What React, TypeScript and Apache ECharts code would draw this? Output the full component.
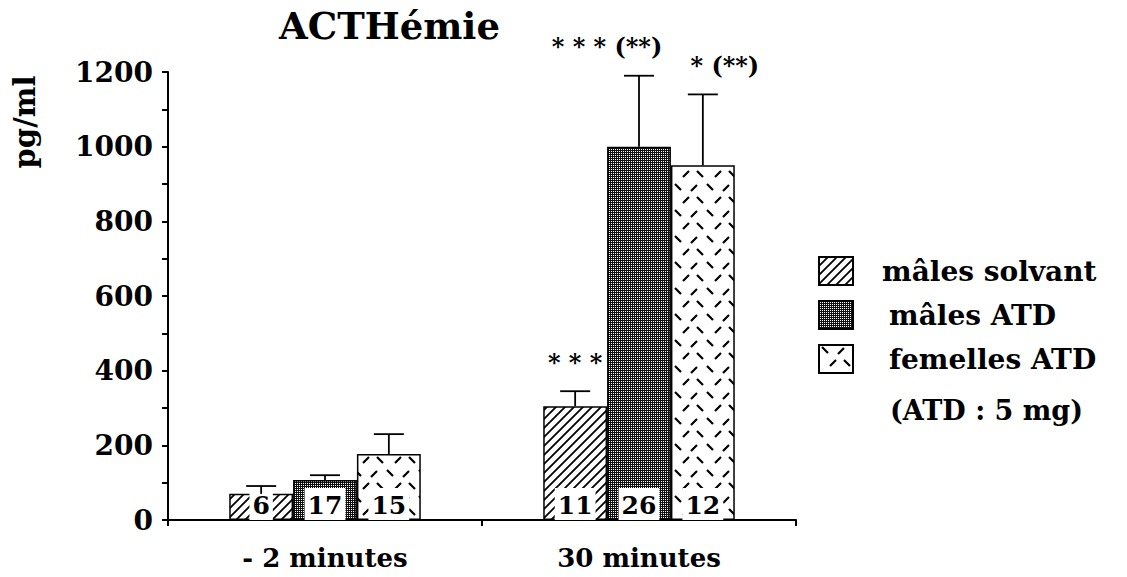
import React, { useEffect, useRef } from "react";
import * as echarts from "echarts";

const categories = ["- 2 minutes", "30 minutes"];
const seriesNames = ["mâles solvant", "mâles ATD", "femelles ATD"];
const means = [
  [70, 305],
  [107, 1000],
  [177, 950],
];
const upper = [
  [91, 345],
  [120, 1190],
  [230, 1140],
];
const counts = [
  ["6", "11"],
  ["17", "26"],
  ["15", "12"],
];
// annotations: [categoryIndex, seriesIndex, text]
const annotations: [number, number, string][] = [
  [1, 0, "* * *"],
  [1, 1, "* * * (**)"],
  [1, 2, "* (**)"],
];
const annotationShift = [0, -32, 22];
const yTicks = { min: 0, max: 1200, interval: 200 };

const FONT = "'DejaVu Serif', 'Liberation Serif', serif";

function makeHatch(): HTMLCanvasElement {
  const c = document.createElement("canvas");
  c.width = 9;
  c.height = 9;
  const g = c.getContext("2d")!;
  g.fillStyle = "#fff";
  g.fillRect(0, 0, 9, 9);
  g.strokeStyle = "#000";
  g.lineWidth = 1.8;
  g.beginPath();
  g.moveTo(-1, 10);
  g.lineTo(10, -1);
  g.moveTo(-5, 5);
  g.lineTo(5, -5);
  g.moveTo(4, 14);
  g.lineTo(14, 4);
  g.stroke();
  return c;
}

function makeDots(): HTMLCanvasElement {
  const c = document.createElement("canvas");
  c.width = 4;
  c.height = 4;
  const g = c.getContext("2d")!;
  g.fillStyle = "#111";
  g.fillRect(0, 0, 4, 4);
  g.fillStyle = "#fff";
  g.fillRect(1, 1, 1, 1);
  g.fillRect(3, 3, 1, 1);
  g.fillRect(3, 1, 1, 1);
  g.fillRect(1, 3, 1, 1);
  return c;
}

function makeDashes(): HTMLCanvasElement {
  const c = document.createElement("canvas");
  const w = 32;
  const h = 26;
  c.width = w;
  c.height = h;
  const g = c.getContext("2d")!;
  g.fillStyle = "#fff";
  g.fillRect(0, 0, w, h);
  g.strokeStyle = "#000";
  g.lineWidth = 2.2;
  g.beginPath();
  // row A
  g.moveTo(3, 2);
  g.lineTo(9, 8);
  g.moveTo(19, 9);
  g.lineTo(25, 3);
  // row B
  g.moveTo(11, 21);
  g.lineTo(17, 15);
  g.moveTo(25, 15);
  g.lineTo(31, 21);
  g.stroke();
  return c;
}

export default function App() {
  const ref = useRef<HTMLDivElement>(null);
  useEffect(() => {
    if (!ref.current) return;
    const chart = echarts.init(ref.current, undefined, { renderer: "svg" });
    const patterns = [makeHatch(), makeDots(), makeDashes()];
    const barFrac = 0.61 / 3;

    const barSeries = seriesNames.map((name, s) => ({
      name,
      type: "bar",
      data: means[s],
      barGap: "0%",
      barCategoryGap: "39%",
      itemStyle: {
        color: { image: patterns[s], repeat: "repeat" },
        borderColor: "#000",
        borderWidth: 1.5,
      },
      label: {
        show: true,
        position: "insideBottom",
        distance: 0,
        formatter: (p: any) => counts[s][p.dataIndex],
        backgroundColor: "#fff",
        padding: [3, 3, 0, 3],
        color: "#000",
        fontFamily: FONT,
        fontWeight: "bold",
        fontSize: 25,
        lineHeight: 29,
      },
    }));

    const errData: number[][] = [];
    seriesNames.forEach((_, s) =>
      categories.forEach((_, c) => errData.push([c, s, means[s][c], upper[s][c]]))
    );

    const errSeries = {
      type: "custom",
      name: "err",
      data: errData,
      z: 5,
      renderItem: (params: any, api: any) => {
        const c = api.value(0);
        const s = api.value(1);
        const base = api.coord([c, api.value(2)]);
        const top = api.coord([c, api.value(3)]);
        const bw = api.size([1, 0])[0] * barFrac;
        const x = base[0] + (s - 1) * bw;
        const st = { stroke: "#000", lineWidth: 1.8 };
        return {
          type: "group",
          children: [
            { type: "line", shape: { x1: x, y1: base[1], x2: x, y2: top[1] }, style: st },
            { type: "line", shape: { x1: x - 15, y1: top[1], x2: x + 15, y2: top[1] }, style: st },
          ],
        };
      },
    };

    const annSeries = {
      type: "custom",
      name: "ann",
      data: annotations.map((a) => [a[0], a[1], upper[a[1]][a[0]]]),
      z: 6,
      renderItem: (params: any, api: any) => {
        const c = api.value(0);
        const s = api.value(1);
        const top = api.coord([c, api.value(2)]);
        const bw = api.size([1, 0])[0] * barFrac;
        const x = top[0] + (s - 1) * bw + annotationShift[params.dataIndex];
        return {
          type: "text",
          x,
          y: top[1] - 29,
          style: {
            text: annotations[params.dataIndex][2],
            fill: "#000",
            font: `bold 24px ${FONT}`,
            align: "center",
            verticalAlign: "middle",
          },
        };
      },
    };

    chart.setOption({
      animation: false,
      backgroundColor: "#fff",
      title: {
        text: "ACTHémie",
        left: 274,
        top: 2,
        textStyle: { fontFamily: FONT, fontWeight: "bold", fontSize: 37, color: "#000" },
      },
      grid: { left: 168, right: 331, top: 72, bottom: 57 },
      legend: {
        orient: "vertical",
        left: 813,
        top: 251,
        itemWidth: 34,
        itemHeight: 28,
        itemGap: 14,
        icon: "rect",
        data: [
          { name: seriesNames[0], textStyle: { padding: [0, 0, 0, 24] } },
          { name: seriesNames[1], textStyle: { padding: [0, 0, 0, 31] } },
          { name: seriesNames[2], textStyle: { padding: [0, 0, 0, 31] } },
        ],
        textStyle: { fontFamily: FONT, fontWeight: "bold", fontSize: 28, color: "#000" },
      },
      graphic: [
        {
          type: "text",
          x: 25,
          y: 122,
          rotation: Math.PI / 2,
          style: {
            text: "pg/ml",
            fill: "#000",
            font: `bold 29px ${FONT}`,
            align: "center",
            verticalAlign: "middle",
          },
        },
        {
          type: "text",
          x: 890,
          y: 410,
          style: {
            text: "(ATD : 5 mg)",
            fill: "#000",
            font: `bold 27px ${FONT}`,
            align: "left",
            verticalAlign: "middle",
          },
        },
      ],
      xAxis: {
        type: "category",
        data: categories,
        axisLine: { lineStyle: { color: "#000", width: 2 } },
        axisTick: { show: true, inside: false, length: 6, lineStyle: { color: "#000", width: 2 } },
        axisLabel: {
          margin: 25,
          color: "#000",
          fontFamily: FONT,
          fontWeight: "bold",
          fontSize: 26,
        },
        splitLine: { show: false },
      },
      yAxis: {
        type: "value",
        min: yTicks.min,
        max: yTicks.max,
        interval: yTicks.interval,
        axisLine: { show: true, lineStyle: { color: "#000", width: 2 } },
        axisTick: { show: true, inside: false, length: 6, lineStyle: { color: "#000", width: 2 } },
        minorTick: { show: true, splitNumber: 2, length: 6, lineStyle: { color: "#000", width: 2 } },
        axisLabel: {
          margin: 15,
          color: "#000",
          fontFamily: FONT,
          fontWeight: "bold",
          fontSize: 28,
          formatter: (v: number) => String(v),
        },
        splitLine: { show: false },
      },
      series: [...barSeries, errSeries, annSeries],
    });
    return () => chart.dispose();
  }, []);
  return (
    <div
      ref={ref}
      style={{ position: "fixed", left: 0, top: 0, width: 1127, height: 577, background: "#fff" }}
    />
  );
}
